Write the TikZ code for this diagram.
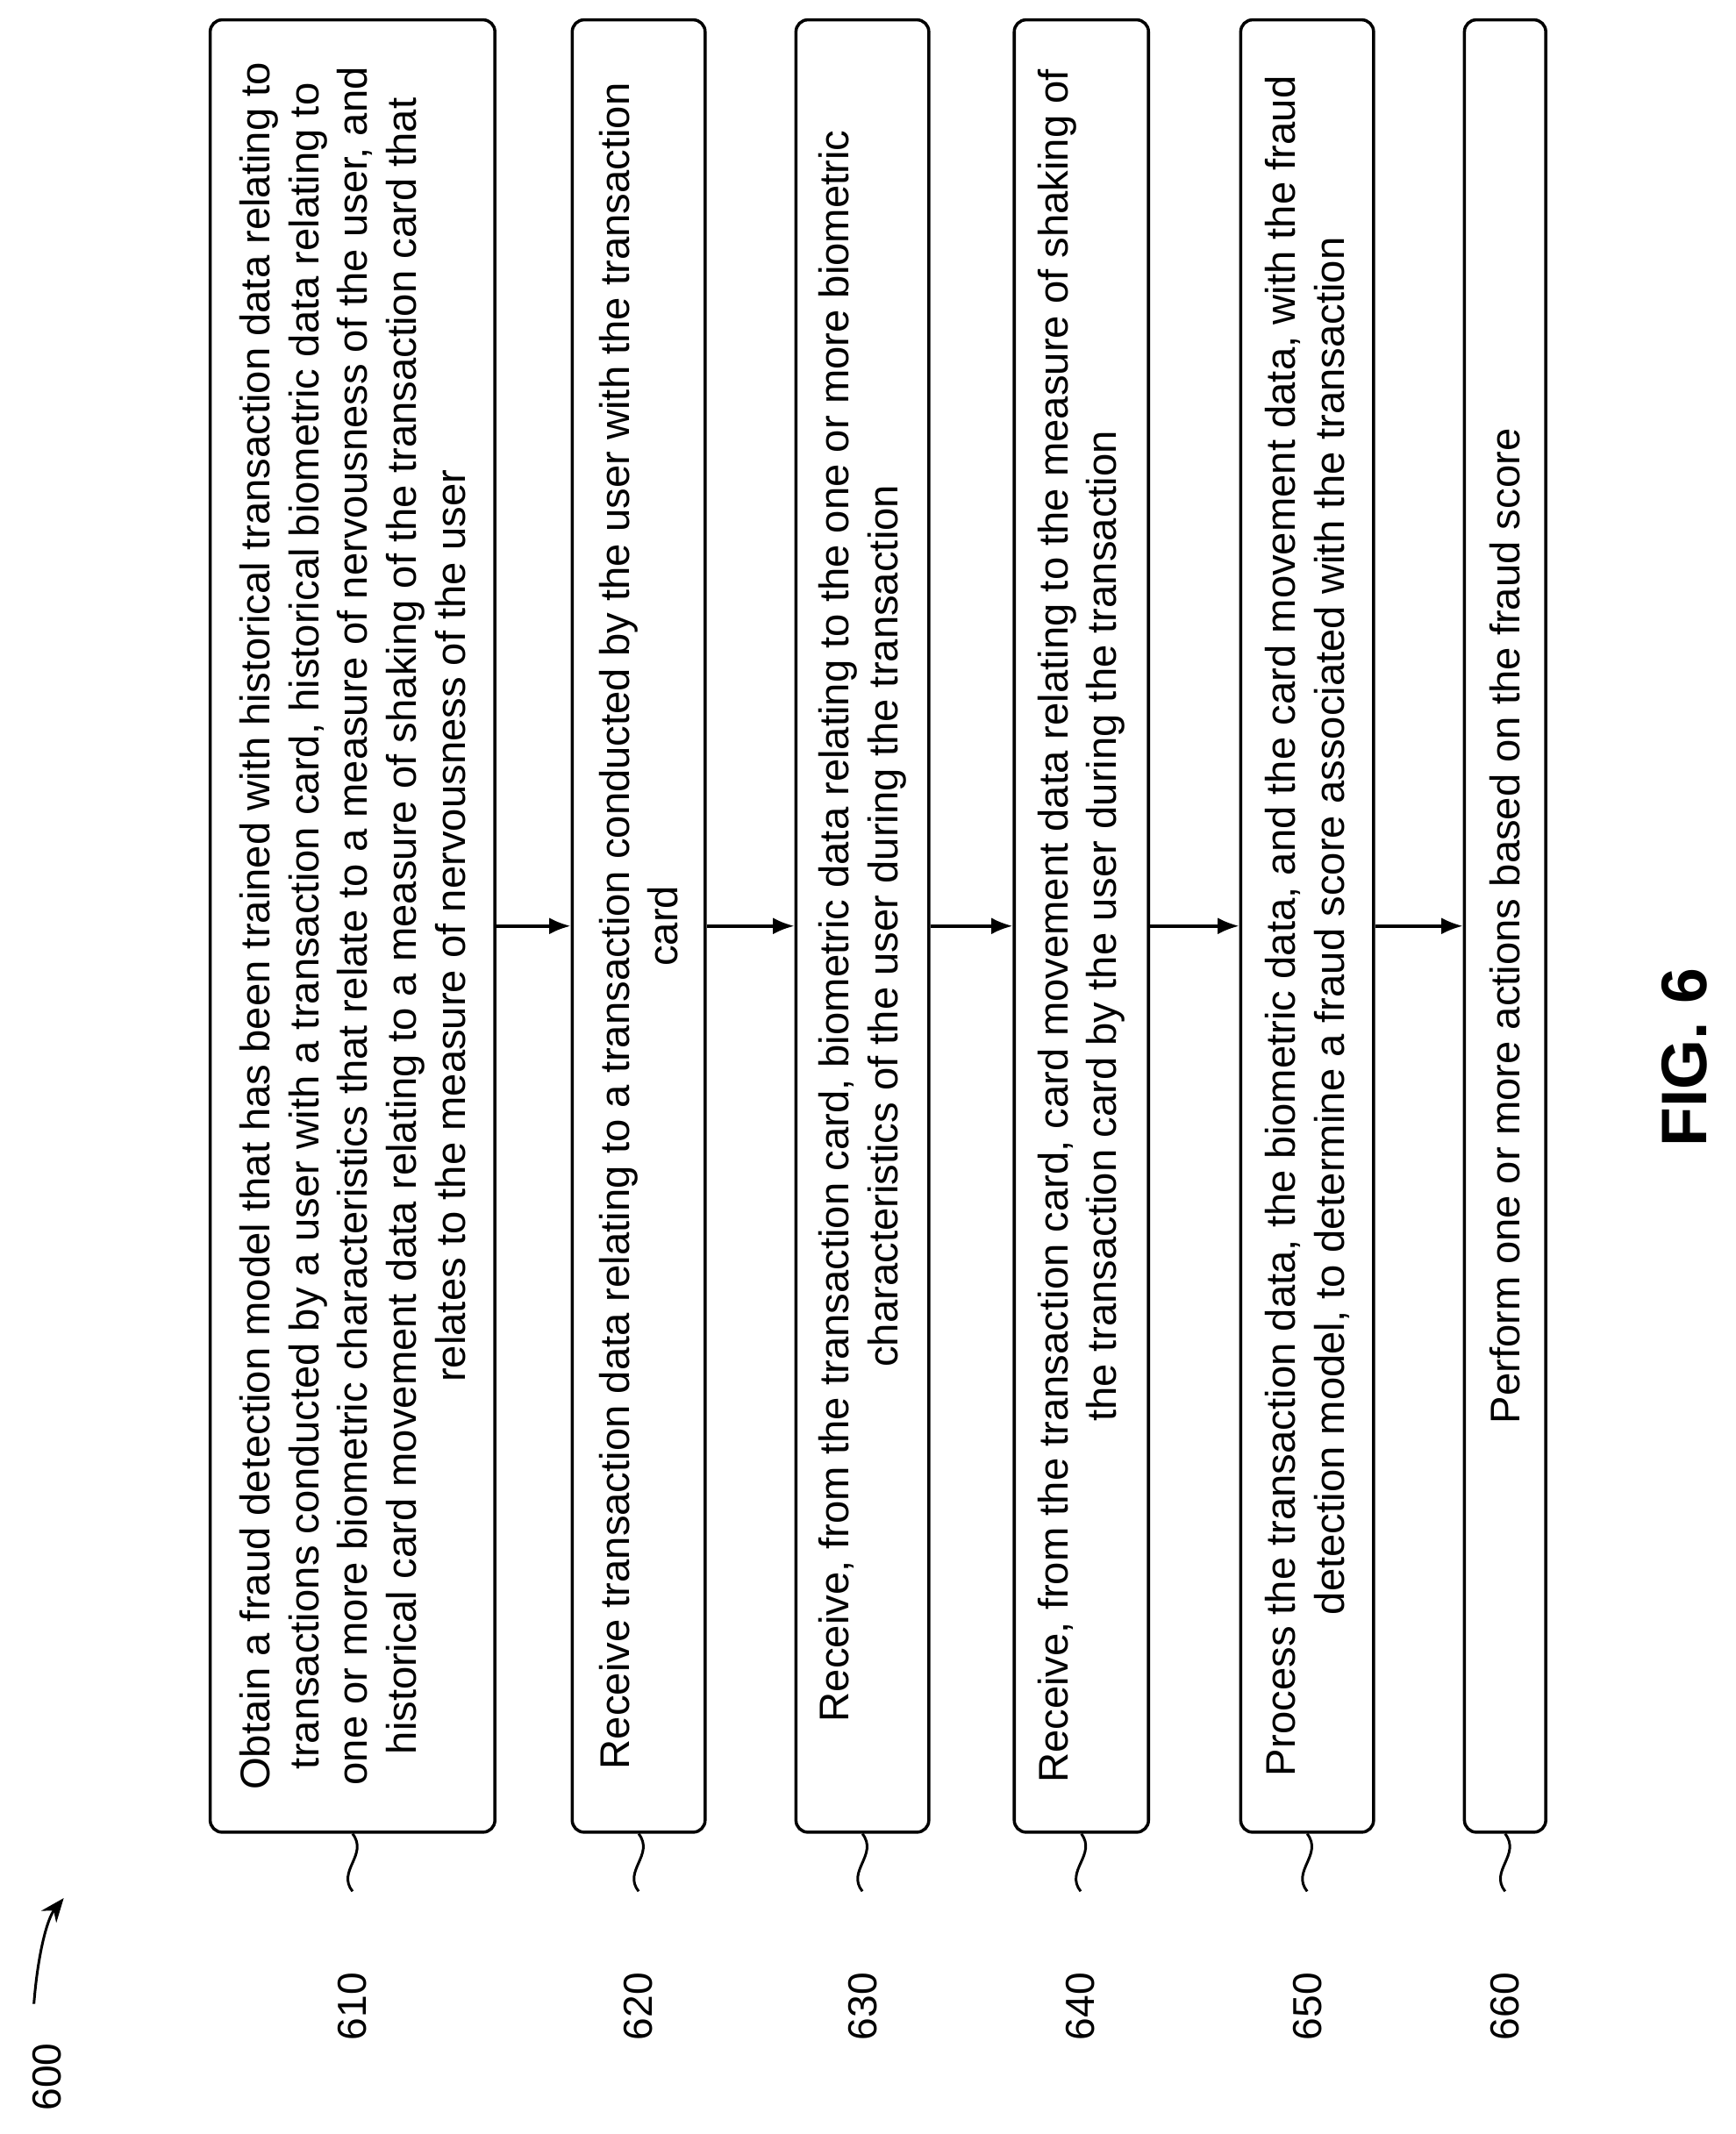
\documentclass[tikz,border=0pt]{standalone}
\usepackage{fontspec}
\setmainfont{Liberation Sans}
\usetikzlibrary{arrows.meta,positioning}
\tikzset{
  stepbox/.style={draw, rounded corners=5pt, line width=1.3pt, rotate=90, align=center,
    font=\fontsize{17.4}{20.5}\selectfont, minimum width=26.74cm, inner sep=0pt},
  numlbl/.style={rotate=90, font=\fontsize{17}{18}\selectfont},
  flow/.style={-{Latex[length=9pt,width=7pt]}, line width=1.3pt}
}
\begin{document}
\begin{tikzpicture}[x=0.02cm,y=-0.02cm]
\useasboundingbox (0,0) rectangle (1280,1574);
% steps
\node[stepbox, minimum height=4.2cm] (b610) at (260,683) {Obtain a fraud detection model that has been trained with historical transaction data relating to\\transactions conducted by a user with a transaction card, historical biometric data relating to\\one or more biometric characteristics that relate to a measure of nervousness of the user, and\\historical card movement data relating to a measure of shaking of the transaction card that\\relates to the measure of nervousness of the user};
\node[stepbox, minimum height=1.96cm] (b620) at (471,683) {Receive transaction data relating to a transaction conducted by the user with the transaction\\card};
\node[stepbox, minimum height=1.96cm] (b630) at (636,683) {Receive, from the transaction card, biometric data relating to the one or more biometric\\characteristics of the user during the transaction};
\node[stepbox, minimum height=1.98cm] (b640) at (797.5,683) {Receive, from the transaction card, card movement data relating to the measure of shaking of\\the transaction card by the user during the transaction};
\node[stepbox, minimum height=1.96cm] (b650) at (964,683) {Process the transaction data, the biometric data, and the card movement data, with the fraud\\detection model, to determine a fraud score associated with the transaction};
\node[stepbox, minimum height=1.2cm] (b660) at (1110,683) {Perform one or more actions based on the fraud score};
% arrows
\draw[flow] (b610.south) -- (b620.north);
\draw[flow] (b620.south) -- (b630.north);
\draw[flow] (b630.south) -- (b640.north);
\draw[flow] (b640.south) -- (b650.north);
\draw[flow] (b650.south) -- (b660.north);
% reference numbers
\foreach \b/\n/\x in {b610/610/260,b620/620/471,b630/630/636,b640/640/797,b650/650/964,b660/660/1110}{
  \draw[line width=1.1pt] (\b.west) .. controls (\x+12,1368) and (\x-12,1380) .. (\x,1395);
  \node[numlbl] (l\n) at (\x,1480) {\n};
}
\node[numlbl] (l600) at (35,1532) {600};
\draw[line width=1.1pt, -{Stealth[length=10pt,width=8pt]}] (25,1478) .. controls (28,1440) and (35,1415) .. (47,1400);
\node[rotate=90, font=\bfseries\fontsize{27}{30}\selectfont] (fig) at (1242,780) {FIG. 6};
\end{tikzpicture}
\end{document}
